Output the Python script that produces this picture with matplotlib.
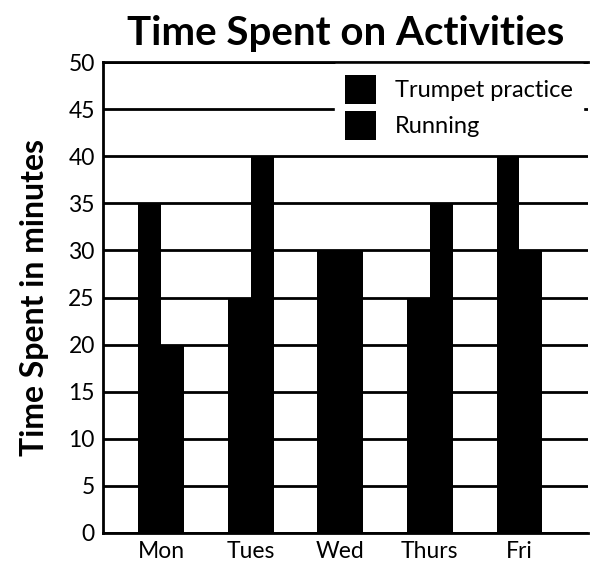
import numpy as np
import matplotlib
matplotlib.use("Agg")
import matplotlib.pyplot as plt

days = ["Mon", "Tues", "Wed", "Thurs", "Fri"]
trumpet = [35, 25, 30, 25, 40]
running = [20, 40, 30, 35, 30]
y_ticks = list(range(0, 51, 5))

plt.rcParams["font.family"] = ["Lato", "DejaVu Sans"]

fig = plt.figure(figsize=(5.96, 5.70), dpi=100)
ax = fig.add_axes([0.173, 0.065, 0.814, 0.826])

x = np.arange(len(days))
w = 0.255
ax.bar(x - w / 2, trumpet, w, color="black", zorder=3, label="Trumpet practice")
ax.bar(x + w / 2, running, w, color="black", zorder=3, label="Running")

ax.set_xlim(-0.65, 4.77)
ax.set_ylim(0, 50)
ax.set_yticks(y_ticks)
ax.set_xticks(x)
ax.set_xticklabels(days)
ax.tick_params(axis="both", length=0, labelsize=16.5, pad=6)
ax.yaxis.grid(True, color="black", linewidth=2, zorder=1)
ax.set_axisbelow(True)

for s in ["left", "bottom", "top"]:
    ax.spines[s].set_linewidth(2)
ax.spines["right"].set_visible(False)

ax.set_ylabel("Time Spent in minutes", fontsize=23, fontweight="bold", labelpad=14)
ax.set_title("Time Spent on Activities", fontsize=29, fontweight="bold", pad=12)

leg = ax.legend(loc="upper right", bbox_to_anchor=(0.99, 0.995), frameon=True,
                fontsize=17, handlelength=1.3, handleheight=1.5, borderaxespad=0,
                edgecolor="white", facecolor="white", framealpha=1, fancybox=False,
                labelspacing=0.3, borderpad=0.45, handletextpad=0.8)
leg.set_zorder(5)

fig.savefig("out.png", dpi=100)
